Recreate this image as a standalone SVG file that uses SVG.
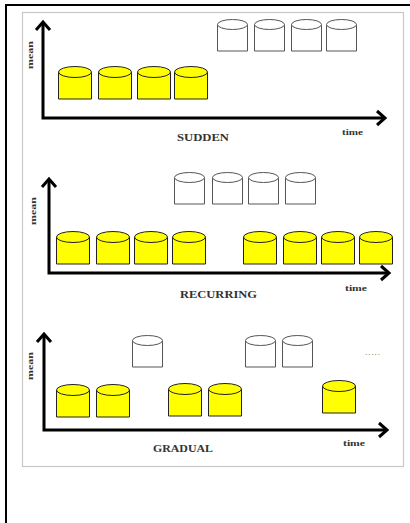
<svg xmlns="http://www.w3.org/2000/svg" xmlns:xlink="http://www.w3.org/1999/xlink" width="410" height="523" viewBox="0 0 410 523">
  <style>
    .frame { fill: none; stroke: #000; stroke-width: 2; }
    .panel { fill: #fff; stroke: #c8c8c8; stroke-width: 1.2; }
    .axis { fill: none; stroke: #000; stroke-width: 3; marker-start: url(#chev); marker-end: url(#chev); }
    .title { font-family: "Liberation Serif", "Times New Roman", serif; font-weight: bold; font-size: 11px; fill: #333; text-anchor: middle; }
    .lbl { font-family: "Liberation Serif", "Times New Roman", serif; font-weight: bold; font-size: 9px; fill: #333; }
    .dots { font-family: "Liberation Sans", Arial, sans-serif; font-size: 9px; fill: #888; }
  </style>
  <defs>
    <marker id="chev" markerUnits="userSpaceOnUse" markerWidth="20" markerHeight="20" refX="0" refY="0" viewBox="-12 -10 14 20" orient="auto-start-reverse">
      <path d="M-8,-7 L0,0 L-8,7" fill="none" stroke="#000" stroke-width="3" stroke-linejoin="miter"/>
    </marker>
    <!-- filled drum: 34 wide, 33 tall -->
    <g id="cylY">
      <path d="M0.5,6 V33 H33.5 V6" fill="#ffff00" stroke="#222" stroke-width="1"/>
      <ellipse cx="17" cy="6" rx="16.5" ry="5.5" fill="#ffff00" stroke="#222" stroke-width="1"/>
    </g>
    <!-- empty drum: 31 wide, 32 tall -->
    <g id="cylW">
      <path d="M0.5,5.5 V32 H30.5 V5.5" fill="#fff" stroke="#555" stroke-width="1"/>
      <ellipse cx="15.5" cy="5.5" rx="15" ry="5" fill="#fff" stroke="#555" stroke-width="1"/>
    </g>
  </defs>

  <rect width="410" height="523" fill="#fff"/>
  <path class="frame" d="M6,523 V5 H410"/>
  <rect class="panel" x="22.5" y="12.5" width="381" height="454"/>

  <!-- axes -->
  <g id="connectors">
    <path class="axis" d="M43,22 V118 H385"/>
    <path class="axis" d="M49,179 V273 H389"/>
    <path class="axis" d="M44,334 V430 H387"/>
  </g>

  <!-- SUDDEN -->
  <g id="sudden">
    <g id="sudden-old">
      <use xlink:href="#cylY" x="58" y="66"/>
      <use xlink:href="#cylY" x="98" y="66"/>
      <use xlink:href="#cylY" x="137" y="66"/>
      <use xlink:href="#cylY" x="174" y="66"/>
    </g>
    <g id="sudden-new">
      <use xlink:href="#cylW" x="217" y="19"/>
      <use xlink:href="#cylW" x="254" y="19"/>
      <use xlink:href="#cylW" x="291" y="19"/>
      <use xlink:href="#cylW" x="326" y="19"/>
    </g>
    <text class="lbl" transform="translate(33,55) rotate(-90)" text-anchor="middle" textLength="28" lengthAdjust="spacingAndGlyphs">mean</text>
    <text class="lbl" x="342" y="135" textLength="21" lengthAdjust="spacingAndGlyphs">time</text>
    <text class="title" x="203" y="141" textLength="52" lengthAdjust="spacingAndGlyphs">SUDDEN</text>
  </g>

  <!-- RECURRING -->
  <g id="recurring">
    <g id="recurring-new">
      <use xlink:href="#cylW" x="174" y="172"/>
      <use xlink:href="#cylW" x="212" y="172"/>
      <use xlink:href="#cylW" x="248" y="172"/>
      <use xlink:href="#cylW" x="285" y="172"/>
    </g>
    <g id="recurring-old">
      <use xlink:href="#cylY" x="56" y="231"/>
      <use xlink:href="#cylY" x="96" y="231"/>
      <use xlink:href="#cylY" x="134" y="231"/>
      <use xlink:href="#cylY" x="172" y="231"/>
      <use xlink:href="#cylY" x="243" y="231"/>
      <use xlink:href="#cylY" x="283" y="231"/>
      <use xlink:href="#cylY" x="321" y="231"/>
      <use xlink:href="#cylY" x="359" y="231"/>
    </g>
    <text class="lbl" transform="translate(36,211) rotate(-90)" text-anchor="middle" textLength="28" lengthAdjust="spacingAndGlyphs">mean</text>
    <text class="lbl" x="345" y="291" textLength="22" lengthAdjust="spacingAndGlyphs">time</text>
    <text class="title" x="218.5" y="298" textLength="77" lengthAdjust="spacingAndGlyphs">RECURRING</text>
  </g>

  <!-- GRADUAL -->
  <g id="gradual">
    <g id="gradual-new">
      <use xlink:href="#cylW" x="132" y="335"/>
      <use xlink:href="#cylW" x="245" y="335"/>
      <use xlink:href="#cylW" x="282" y="335"/>
    </g>
    <text class="dots" x="365" y="355" textLength="15" lengthAdjust="spacing">.....</text>
    <g id="gradual-old">
      <use xlink:href="#cylY" x="56" y="384"/>
      <use xlink:href="#cylY" x="96" y="384"/>
      <use xlink:href="#cylY" x="168" y="383"/>
      <use xlink:href="#cylY" x="208" y="383"/>
      <use xlink:href="#cylY" x="322" y="380"/>
    </g>
    <text class="lbl" transform="translate(33,366) rotate(-90)" text-anchor="middle" textLength="28" lengthAdjust="spacingAndGlyphs">mean</text>
    <text class="lbl" x="343" y="446" textLength="22" lengthAdjust="spacingAndGlyphs">time</text>
    <text class="title" x="183" y="452" textLength="60" lengthAdjust="spacingAndGlyphs">GRADUAL</text>
  </g>
</svg>
